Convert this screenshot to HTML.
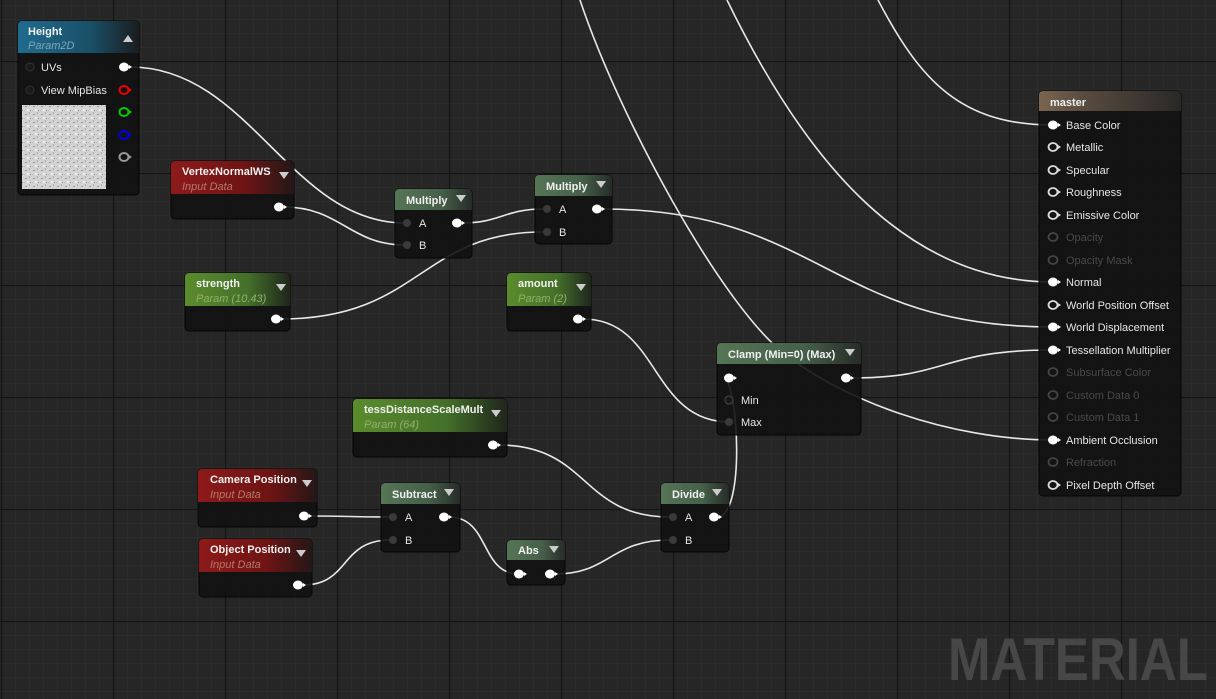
<!DOCTYPE html>
<html><head><meta charset="utf-8"><style>
html,body{margin:0;padding:0;background:#262626;overflow:hidden}
svg{display:block}
text{font-family:"Liberation Sans",sans-serif}
.t{font-weight:bold;font-size:11px;fill:#f0f0f0}
.s{font-style:italic;font-size:11px}
.l{font-size:11px;fill:#e6e6e6}
.d{font-size:11px;fill:#4a4a4a}
.w{fill:none;stroke:#e8e8e8;stroke-width:1.6}
.b{fill:#121212;fill-opacity:.9;stroke:#050505;stroke-width:1}
</style></head><body>
<svg width="1216" height="699" viewBox="0 0 1216 699" xmlns="http://www.w3.org/2000/svg">
<defs>
<pattern id="minor" width="14" height="14" patternUnits="userSpaceOnUse" x="1" y="5">
<path d="M0 0H14M0 0V14" stroke="#303030" stroke-width="1" fill="none"/></pattern>
<pattern id="major" width="112" height="112" patternUnits="userSpaceOnUse" x="1" y="61">
<path d="M0 0.5H112M0.5 0V112" stroke="#141414" stroke-width="1.2" fill="none"/></pattern>
<linearGradient id="gBlue" x1="0" x2="1"><stop offset="0" stop-color="#1f6b8e"/><stop offset=".6" stop-color="#1a4f68"/><stop offset="1" stop-color="#1a1d20"/></linearGradient>
<linearGradient id="gRed" x1="0" x2="1"><stop offset="0" stop-color="#8e1a1a"/><stop offset=".6" stop-color="#6e1414"/><stop offset="1" stop-color="#241717"/></linearGradient>
<linearGradient id="gGreen" x1="0" x2="1"><stop offset="0" stop-color="#5a8c2c"/><stop offset=".6" stop-color="#44702a"/><stop offset="1" stop-color="#1f261c"/></linearGradient>
<linearGradient id="gFn" x1="0" x2="1"><stop offset="0" stop-color="#557555"/><stop offset=".6" stop-color="#46604a"/><stop offset="1" stop-color="#262c27"/></linearGradient>
<linearGradient id="gMaster" x1="0" x2="1"><stop offset="0" stop-color="#7a6550"/><stop offset=".3" stop-color="#5a4c40"/><stop offset="1" stop-color="#2a2826"/></linearGradient>
<pattern id="noise" width="8" height="8" patternUnits="userSpaceOnUse">
<rect width="8" height="8" fill="#d4d4d4"/><rect x="1" y="2" width="2" height="1" fill="#999"/><rect x="5" y="0" width="1" height="2" fill="#aaa"/><rect x="3" y="5" width="2" height="2" fill="#eee"/><rect x="6" y="6" width="1" height="1" fill="#888"/><rect x="0" y="6" width="1" height="1" fill="#bbb"/></pattern>
</defs>
<rect width="1216" height="699" fill="#262626"/>
<rect width="1216" height="699" fill="url(#minor)"/>
<rect width="1216" height="699" fill="url(#major)"/>

<text x="948" y="680" font-size="60" font-weight="bold" fill="#474747" textLength="260" lengthAdjust="spacingAndGlyphs">MATERIAL</text>

<!-- wires -->
<path class="w" d="M130 67 C250 67 290 223 405 223"/>
<path class="w" d="M284 207 C340 207 350 245 405 245"/>
<path class="w" d="M462 223 C500 223 505 209 543 209"/>
<path class="w" d="M281 319 C420 319 420 232 543 232"/>
<path class="w" d="M602 209 C820 209 830 327 1053 327"/>
<path class="w" d="M583 319 C660 319 650 422 730 422"/>
<path class="w" d="M498 445 C590 445 580 517 670 517"/>
<path class="w" d="M309 516 C350 516 350 517 390 517"/>
<path class="w" d="M303 585 C350 585 340 540 390 540"/>
<path class="w" d="M449 517 C490 517 480 574 519 574"/>
<path class="w" d="M555 574 C610 574 610 540 670 540"/>
<path class="w" d="M719 517 C745 510 738 390 725 378"/>
<path class="w" d="M852 378 C950 378 940 350 1053 350"/>
<path class="w" d="M878 0 C920 80 960 125 1053 125"/>
<path class="w" d="M727 0 C800 150 900 282 1053 282"/>
<path class="w" d="M580 0 C620 120 720 300 780 350 S950 440 1053 440"/>

<!-- Height -->
<rect class="b" x="18" y="21" width="121" height="174" rx="4"/>
<path d="M22 21H135a4 4 0 0 1 4 4V53H18V25a4 4 0 0 1 4-4z" fill="url(#gBlue)"/>
<text class="t" x="28" y="35">Height</text>
<text class="s" x="28" y="49" fill="#7fa7b8">Param2D</text>
<path d="M123 42 L128 35 L133 42Z" fill="#ccc"/>
<circle cx="30" cy="67" r="4" fill="#1a1a1a" stroke="#333"/><text class="l" x="41" y="71">UVs</text>
<circle cx="30" cy="90" r="4" fill="#1a1a1a" stroke="#333"/><text class="l" x="41" y="94">View MipBias</text>
<rect x="22" y="105" width="84" height="84" fill="url(#noise)"/>
<ellipse cx="124" cy="67" rx="5" ry="4.5" fill="#fff"/><path d="M129 65l3 2-3 2z" fill="#fff"/>
<ellipse cx="124" cy="90" rx="4.5" ry="4" fill="none" stroke="#e00" stroke-width="2"/><path d="M129 88l3 2-3 2z" fill="#e00"/>
<ellipse cx="124" cy="112" rx="4.5" ry="4" fill="none" stroke="#0c0" stroke-width="2"/><path d="M129 110l3 2-3 2z" fill="#0c0"/>
<ellipse cx="124" cy="135" rx="4.5" ry="4" fill="none" stroke="#00d" stroke-width="2"/><path d="M129 133l3 2-3 2z" fill="#00d"/>
<ellipse cx="124" cy="157" rx="4.5" ry="4" fill="none" stroke="#999" stroke-width="2"/><path d="M129 155l3 2-3 2z" fill="#999"/>

<!-- VertexNormalWS -->
<rect class="b" x="171" y="161" width="123" height="58" rx="4"/>
<path d="M175 161H290a4 4 0 0 1 4 4V194H171V165a4 4 0 0 1 4-4z" fill="url(#gRed)"/>
<text class="t" x="182" y="175">VertexNormalWS</text>
<text class="s" x="182" y="190" fill="#b07a6a">Input Data</text>
<path d="M279 172h10l-5 7z" fill="#ccc"/>
<ellipse cx="279" cy="207" rx="5" ry="4.5" fill="#fff"/><path d="M284 205l3 2-3 2z" fill="#fff"/>

<!-- Multiply 1 -->
<rect class="b" x="395" y="189" width="77" height="69" rx="4"/>
<path d="M399 189H468a4 4 0 0 1 4 4V210H395V193a4 4 0 0 1 4-4z" fill="url(#gFn)"/>
<text class="t" x="406" y="204">Multiply</text>
<path d="M456 195h10l-5 7z" fill="#ccc"/>
<circle cx="407" cy="223" r="4" fill="#3a3a3a"/><text class="l" x="419" y="227">A</text>
<circle cx="407" cy="245" r="4" fill="#3a3a3a"/><text class="l" x="419" y="249">B</text>
<ellipse cx="457" cy="223" rx="5" ry="4.5" fill="#fff"/><path d="M462 221l3 2-3 2z" fill="#fff"/>

<!-- Multiply 2 -->
<rect class="b" x="535" y="175" width="77" height="69" rx="4"/>
<path d="M539 175H608a4 4 0 0 1 4 4V196H535V179a4 4 0 0 1 4-4z" fill="url(#gFn)"/>
<text class="t" x="546" y="190">Multiply</text>
<path d="M596 181h10l-5 7z" fill="#ccc"/>
<circle cx="547" cy="209" r="4" fill="#3a3a3a"/><text class="l" x="559" y="213">A</text>
<circle cx="547" cy="232" r="4" fill="#3a3a3a"/><text class="l" x="559" y="236">B</text>
<ellipse cx="597" cy="209" rx="5" ry="4.5" fill="#fff"/><path d="M602 207l3 2-3 2z" fill="#fff"/>

<!-- strength -->
<rect class="b" x="185" y="273" width="105" height="58" rx="4"/>
<path d="M189 273H286a4 4 0 0 1 4 4V306H185V277a4 4 0 0 1 4-4z" fill="url(#gGreen)"/>
<text class="t" x="196" y="287">strength</text>
<text class="s" x="196" y="302" fill="#94b06e">Param (10.43)</text>
<path d="M276 284h10l-5 7z" fill="#ccc"/>
<ellipse cx="276" cy="319" rx="5" ry="4.5" fill="#fff"/><path d="M281 317l3 2-3 2z" fill="#fff"/>

<!-- amount -->
<rect class="b" x="507" y="273" width="84" height="58" rx="4"/>
<path d="M511 273H587a4 4 0 0 1 4 4V306H507V277a4 4 0 0 1 4-4z" fill="url(#gGreen)"/>
<text class="t" x="518" y="287">amount</text>
<text class="s" x="518" y="302" fill="#94b06e">Param (2)</text>
<path d="M576 284h10l-5 7z" fill="#ccc"/>
<ellipse cx="578" cy="319" rx="5" ry="4.5" fill="#fff"/><path d="M583 317l3 2-3 2z" fill="#fff"/>

<!-- Clamp -->
<rect class="b" x="717" y="343" width="144" height="92" rx="4"/>
<path d="M721 343H857a4 4 0 0 1 4 4V364H717V347a4 4 0 0 1 4-4z" fill="url(#gFn)"/>
<text class="t" x="728" y="358">Clamp (Min=0) (Max)</text>
<path d="M845 349h10l-5 7z" fill="#ccc"/>
<ellipse cx="729" cy="378" rx="5" ry="4.5" fill="#fff"/><path d="M734 376l3 2-3 2z" fill="#fff"/>
<circle cx="729" cy="400" r="4" fill="#161616" stroke="#3a3a3a" stroke-width="1.5"/><text class="l" x="741" y="404">Min</text>
<circle cx="729" cy="422" r="4" fill="#3a3a3a"/><text class="l" x="741" y="426">Max</text>
<ellipse cx="846" cy="378" rx="5" ry="4.5" fill="#fff"/><path d="M851 376l3 2-3 2z" fill="#fff"/>

<!-- tessDistanceScaleMult -->
<rect class="b" x="353" y="399" width="154" height="58" rx="4"/>
<path d="M357 399H503a4 4 0 0 1 4 4V432H353V403a4 4 0 0 1 4-4z" fill="url(#gGreen)"/>
<text class="t" x="364" y="413">tessDistanceScaleMult</text>
<text class="s" x="364" y="428" fill="#94b06e">Param (64)</text>
<path d="M491 410h10l-5 7z" fill="#ccc"/>
<ellipse cx="493" cy="445" rx="5" ry="4.5" fill="#fff"/><path d="M498 443l3 2-3 2z" fill="#fff"/>

<!-- Camera Position -->
<rect class="b" x="198" y="469" width="119" height="58" rx="4"/>
<path d="M202 469H313a4 4 0 0 1 4 4V502H198V473a4 4 0 0 1 4-4z" fill="url(#gRed)"/>
<text class="t" x="210" y="483">Camera Position</text>
<text class="s" x="210" y="498" fill="#b07a6a">Input Data</text>
<path d="M302 480h10l-5 7z" fill="#ccc"/>
<ellipse cx="304" cy="516" rx="5" ry="4.5" fill="#fff"/><path d="M309 514l3 2-3 2z" fill="#fff"/>

<!-- Object Position -->
<rect class="b" x="199" y="539" width="113" height="58" rx="4"/>
<path d="M203 539H308a4 4 0 0 1 4 4V572H199V543a4 4 0 0 1 4-4z" fill="url(#gRed)"/>
<text class="t" x="210" y="553">Object Position</text>
<text class="s" x="210" y="568" fill="#b07a6a">Input Data</text>
<path d="M296 550h10l-5 7z" fill="#ccc"/>
<ellipse cx="298" cy="585" rx="5" ry="4.5" fill="#fff"/><path d="M303 583l3 2-3 2z" fill="#fff"/>

<!-- Subtract -->
<rect class="b" x="381" y="483" width="79" height="69" rx="4"/>
<path d="M385 483H456a4 4 0 0 1 4 4V504H381V487a4 4 0 0 1 4-4z" fill="url(#gFn)"/>
<text class="t" x="392" y="498">Subtract</text>
<path d="M444 489h10l-5 7z" fill="#ccc"/>
<circle cx="393" cy="517" r="4" fill="#3a3a3a"/><text class="l" x="405" y="521">A</text>
<circle cx="393" cy="540" r="4" fill="#3a3a3a"/><text class="l" x="405" y="544">B</text>
<ellipse cx="444" cy="517" rx="5" ry="4.5" fill="#fff"/><path d="M449 515l3 2-3 2z" fill="#fff"/>

<!-- Abs -->
<rect class="b" x="507" y="540" width="58" height="45" rx="4"/>
<path d="M511 540H561a4 4 0 0 1 4 4V560H507V544a4 4 0 0 1 4-4z" fill="url(#gFn)"/>
<text class="t" x="518" y="554">Abs</text>
<path d="M549 546h10l-5 7z" fill="#ccc"/>
<ellipse cx="519" cy="574" rx="5" ry="4.5" fill="#fff"/><path d="M524 572l3 2-3 2z" fill="#fff"/>
<ellipse cx="550" cy="574" rx="5" ry="4.5" fill="#fff"/><path d="M555 572l3 2-3 2z" fill="#fff"/>

<!-- Divide -->
<rect class="b" x="661" y="483" width="68" height="69" rx="4"/>
<path d="M665 483H725a4 4 0 0 1 4 4V504H661V487a4 4 0 0 1 4-4z" fill="url(#gFn)"/>
<text class="t" x="672" y="498">Divide</text>
<path d="M712 489h10l-5 7z" fill="#ccc"/>
<circle cx="673" cy="517" r="4" fill="#3a3a3a"/><text class="l" x="685" y="521">A</text>
<circle cx="673" cy="540" r="4" fill="#3a3a3a"/><text class="l" x="685" y="544">B</text>
<ellipse cx="714" cy="517" rx="5" ry="4.5" fill="#fff"/><path d="M719 515l3 2-3 2z" fill="#fff"/>

<!-- master -->
<rect class="b" x="1039" y="91" width="142" height="405" rx="4"/>
<path d="M1043 91H1177a4 4 0 0 1 4 4V111H1039V95a4 4 0 0 1 4-4z" fill="url(#gMaster)"/>
<text class="t" x="1050" y="106">master</text>
<g>
<ellipse cx="1053" cy="125" rx="5" ry="4.5" fill="#fff"/><path d="M1058 123l3 2-3 2z" fill="#fff"/><text class="l" x="1066" y="129">Base Color</text>
<ellipse cx="1053" cy="147" rx="4.5" ry="4" fill="none" stroke="#ddd" stroke-width="1.8"/><path d="M1058 145l3 2-3 2z" fill="#ddd"/><text class="l" x="1066" y="151">Metallic</text>
<ellipse cx="1053" cy="170" rx="4.5" ry="4" fill="none" stroke="#ddd" stroke-width="1.8"/><path d="M1058 168l3 2-3 2z" fill="#ddd"/><text class="l" x="1066" y="174">Specular</text>
<ellipse cx="1053" cy="192" rx="4.5" ry="4" fill="none" stroke="#ddd" stroke-width="1.8"/><path d="M1058 190l3 2-3 2z" fill="#ddd"/><text class="l" x="1066" y="196">Roughness</text>
<ellipse cx="1053" cy="215" rx="4.5" ry="4" fill="none" stroke="#ddd" stroke-width="1.8"/><path d="M1058 213l3 2-3 2z" fill="#ddd"/><text class="l" x="1066" y="219">Emissive Color</text>
<ellipse cx="1053" cy="237" rx="4.5" ry="4" fill="none" stroke="#444" stroke-width="1.8"/><text class="d" x="1066" y="241">Opacity</text>
<ellipse cx="1053" cy="260" rx="4.5" ry="4" fill="none" stroke="#444" stroke-width="1.8"/><text class="d" x="1066" y="264">Opacity Mask</text>
<ellipse cx="1053" cy="282" rx="5" ry="4.5" fill="#fff"/><path d="M1058 280l3 2-3 2z" fill="#fff"/><text class="l" x="1066" y="286">Normal</text>
<ellipse cx="1053" cy="305" rx="4.5" ry="4" fill="none" stroke="#ddd" stroke-width="1.8"/><path d="M1058 303l3 2-3 2z" fill="#ddd"/><text class="l" x="1066" y="309">World Position Offset</text>
<ellipse cx="1053" cy="327" rx="5" ry="4.5" fill="#fff"/><path d="M1058 325l3 2-3 2z" fill="#fff"/><text class="l" x="1066" y="331">World Displacement</text>
<ellipse cx="1053" cy="350" rx="5" ry="4.5" fill="#fff"/><path d="M1058 348l3 2-3 2z" fill="#fff"/><text class="l" x="1066" y="354">Tessellation Multiplier</text>
<ellipse cx="1053" cy="372" rx="4.5" ry="4" fill="none" stroke="#444" stroke-width="1.8"/><text class="d" x="1066" y="376">Subsurface Color</text>
<ellipse cx="1053" cy="395" rx="4.5" ry="4" fill="none" stroke="#444" stroke-width="1.8"/><text class="d" x="1066" y="399">Custom Data 0</text>
<ellipse cx="1053" cy="417" rx="4.5" ry="4" fill="none" stroke="#444" stroke-width="1.8"/><text class="d" x="1066" y="421">Custom Data 1</text>
<ellipse cx="1053" cy="440" rx="5" ry="4.5" fill="#fff"/><path d="M1058 438l3 2-3 2z" fill="#fff"/><text class="l" x="1066" y="444">Ambient Occlusion</text>
<ellipse cx="1053" cy="462" rx="4.5" ry="4" fill="none" stroke="#444" stroke-width="1.8"/><text class="d" x="1066" y="466">Refraction</text>
<ellipse cx="1053" cy="485" rx="4.5" ry="4" fill="none" stroke="#ddd" stroke-width="1.8"/><path d="M1058 483l3 2-3 2z" fill="#ddd"/><text class="l" x="1066" y="489">Pixel Depth Offset</text>
</g>
</svg>
</body></html>
